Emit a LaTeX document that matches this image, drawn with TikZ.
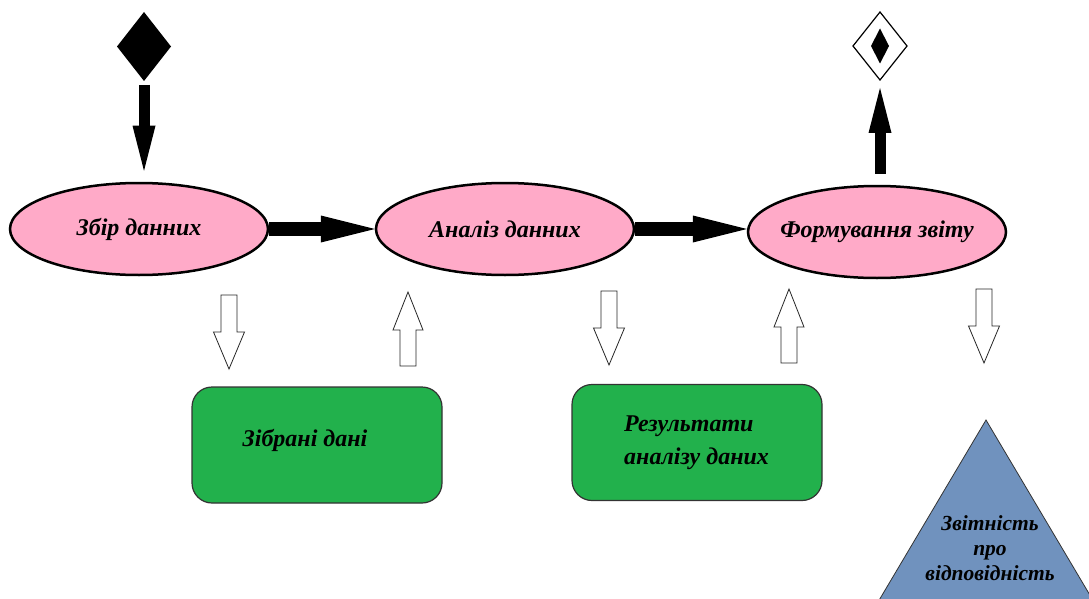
\documentclass[tikz,border=0pt]{standalone}
\usepackage{fontspec}
\setmainfont{Liberation Serif}
\usetikzlibrary{shapes.geometric,arrows.meta,calc}
\definecolor{stagepink}{RGB}{255,170,200}
\definecolor{storegreen}{RGB}{34,177,76}
\definecolor{reportblue}{RGB}{112,146,190}
\begin{document}
\begin{tikzpicture}[x=1pt,y=-1pt,
  stage/.style={ellipse, draw=black, line width=2.5pt, fill=stagepink,
    minimum width=258pt, minimum height=92pt, inner xsep=-40pt, inner ysep=0pt,
    font=\fontsize{24}{28}\selectfont\bfseries\itshape},
  store/.style={rectangle, rounded corners=20pt, draw=black!80, line width=1.2pt,
    fill=storegreen, minimum width=250pt, minimum height=116pt},
  boxtext/.style={inner sep=0pt, font=\fontsize{24}{33}\selectfont\bfseries\itshape},
  flow/.style={line width=14pt, -{Triangle[length=54pt,width=27pt,line width=0pt]}},
  feed/.style={line width=11pt, -{Triangle[length=45pt,width=23pt,line width=0pt]}},
  hollow/.style={draw=black!85, line width=0.8pt, fill=white, line join=miter},
  pics/sinkarrow/.style={code={
    \draw[hollow] (-8,0) -- (8,0) -- (8,37) -- (15.5,37) -- (0,74)
      -- (-15.5,37) -- (-8,37) -- cycle;}},
  pics/riserarrow/.style={code={
    \draw[hollow] (0,0) -- (15,38) -- (8,38) -- (8,74) -- (-8,74)
      -- (-8,38) -- (-15,38) -- cycle;}},
]
\useasboundingbox (0,0) rectangle (1089,599);
\fill[white] (0,0) rectangle (1089,599);

% process stages
\node[stage] (e1) at (139,229) {Збір данних};
\node[stage] (e2) at (505,229) {Аналіз данних};
\node[stage] (e3) at (877,232) {Формування звіту};

% start and end markers
\node[diamond, fill=black, minimum width=54pt, minimum height=69pt,
  inner sep=0pt, outer sep=0pt] (d1) at (144,46.5) {};
\node[diamond, draw=black, line width=1.2pt, fill=white, minimum width=54pt,
  minimum height=68pt, inner sep=0pt, outer sep=0pt] (d2) at (880,46) {};
\node[diamond, fill=black, minimum width=18pt, minimum height=35pt,
  inner sep=0pt, outer sep=0pt] (d2core) at (d2.center) {};

% main flow
\draw[flow] (e1.east) -- (e2.west);
\draw[flow] (e2.east) -- (e2.east -| e3.west);
\draw[feed, shorten <=4pt, shorten >=11pt] (d1.south) -- (d1.south |- e1.north);
\draw[feed, shorten <=11pt, shorten >=8pt] (d2.south |- e3.north) -- (d2.south);

% data stores
\node[store] (s1) at (317,445) {};
\node[boxtext] (s1text) at (305,440) {Зібрані дані};
\node[store] (s2) at (697,442.5) {};
\node[boxtext, align=left, anchor=west] (s2text) at (624,443) {Результати\\аналізу даних};

% exchange with the stores
\pic at (229,295) {sinkarrow};
\pic at (408,292) {riserarrow};
\pic at (609,291) {sinkarrow};
\pic at (789,289) {riserarrow};
\pic at (984,289) {sinkarrow};

% resulting report
\begin{scope}
  \clip (0,0) rectangle (1089,599);
  \draw[fill=reportblue, draw=black!80, line width=0.8pt]
    (986,420) -- (1094,602) -- (878,602) -- cycle;
\end{scope}
\node[align=center, inner sep=0pt,
  font=\fontsize{21.5}{25}\selectfont\bfseries\itshape] (t3text) at (990,548)
  {Звітність\\про\\відповідність};
\end{tikzpicture}
\end{document}
